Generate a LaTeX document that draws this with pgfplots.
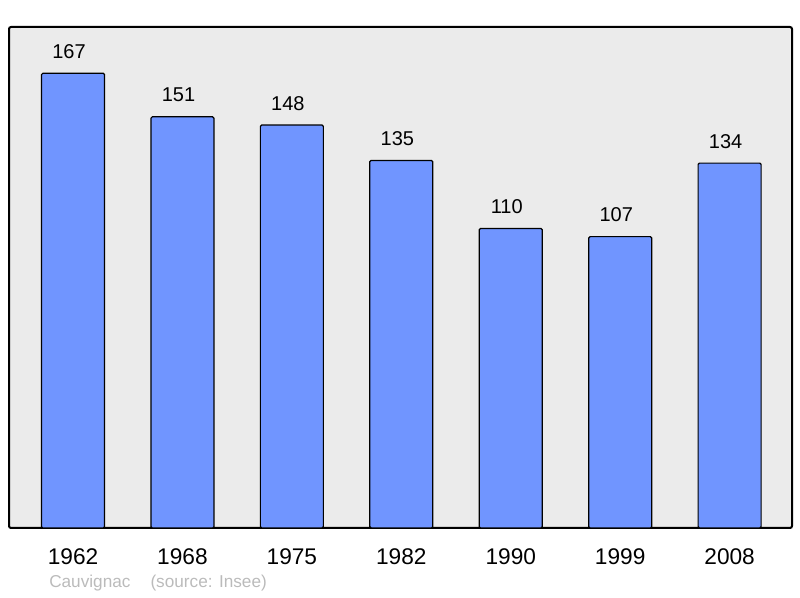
\documentclass[border=0pt]{standalone}
\usepackage{pgfplots}
\pgfplotsset{compat=1.18}
\usepackage{fontspec}
\setmainfont{Liberation Sans}
\definecolor{barblue}{HTML}{7095FF}
\definecolor{bgfill}{HTML}{EBEBEB}
\definecolor{capgray}{HTML}{BBBBBB}
\begin{document}
\begin{tikzpicture}
\path[use as bounding box] (-6.75pt,-52.5pt) rectangle (593.25pt,396pt);
\begin{axis}[
  at={(0pt,0pt)}, anchor=south west,
  scale only axis,
  width=587.25pt, height=375.75pt,
  xmin=-0.585, xmax=6.57, ymin=0, ymax=184,
  axis background/.style={fill=bgfill},
  axis line style={line width=1.5pt, rounded corners=1.5pt},
  xtick=data,
  xticklabels={1962,1968,1975,1982,1990,1999,2008},
  ytick=\empty,
  major tick length=0pt,
  xticklabel style={anchor=base, yshift=-27.75pt, font=\fontsize{17pt}{20pt}\selectfont},
  /pgf/number format/assume math mode=true,
  nodes near coords,
  nodes near coords style={anchor=base, yshift=11.25pt, xshift=-3pt, font=\fontsize{15pt}{18pt}\selectfont, black},
  ybar, bar width=47.25pt,
  clip=false,
]
\addplot[draw=black, line width=0.9pt, fill=barblue, rounded corners=1pt] coordinates {
(0,167) (1,151) (2,148) (3,135) (4,110) (5,107) (6,134)};
\node[anchor=base west, text=capgray, font=\fontsize{12.9pt}{15pt}\selectfont, inner sep=0pt] at (rel axis cs:0,0) [xshift=30pt, yshift=-45pt] {Cauvignac\hspace{15pt}(source: Insee)};
\end{axis}
\end{tikzpicture}
\end{document}
